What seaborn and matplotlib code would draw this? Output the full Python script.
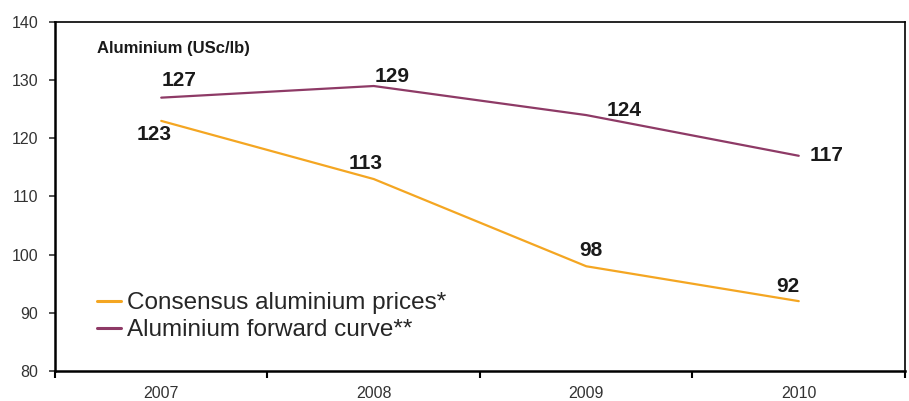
import numpy as np
import pandas as pd
import seaborn as sns
import matplotlib.pyplot as plt
from matplotlib.ticker import FixedLocator

years = ["2007", "2008", "2009", "2010"]
consensus = [123, 113, 98, 92]
forward = [127, 129, 124, 117]
series_names = ["Consensus aluminium prices*", "Aluminium forward curve**"]
colors = ["#F4A622", "#8E3A66"]

# label offsets in pixels (dx, dy) for each point label
cons_offsets = [(-7, -14), (-8, 16), (5, 16), (-11, 15)]
fwd_offsets = [(18, 17), (18, 10), (38, 5), (28, 0)]

df = pd.DataFrame({
    "year": years * 2,
    "value": consensus + forward,
    "series": [series_names[0]] * 4 + [series_names[1]] * 4,
})

sns.set_style("white")
plt.rcParams["font.family"] = ["Liberation Sans", "DejaVu Sans"]

fig, ax = plt.subplots(figsize=(9.09, 4.01), dpi=100)
fig.subplots_adjust(left=0.0605, right=0.9956, top=0.945, bottom=0.075)

sns.lineplot(data=df, x="year", y="value", hue="series", palette=colors,
             linewidth=1.6, sort=False, ax=ax)

ax.set_xlim(-0.5, 3.5)
ax.set_ylim(80, 140)
ax.set_yticks(np.arange(80, 141, 10))
ax.set_xlabel("")
ax.set_ylabel("")

for vals, offs in [(consensus, cons_offsets), (forward, fwd_offsets)]:
    for i, (v, (dx, dy)) in enumerate(zip(vals, offs)):
        ax.annotate(str(v), (i, v), xytext=(dx, dy), textcoords="offset pixels",
                    ha="center", va="center", fontsize=15, fontweight="bold",
                    color="#1a1a1a")

ax.text(0.05, 0.925, "Aluminium (USc/lb)", transform=ax.transAxes,
        fontsize=12, fontweight="bold", color="#1a1a1a", va="center")

for side, lw in [("left", 1.8), ("bottom", 1.8), ("top", 1.2), ("right", 1.2)]:
    ax.spines[side].set_visible(True)
    ax.spines[side].set_color("black")
    ax.spines[side].set_linewidth(lw)

ax.tick_params(axis="y", direction="out", length=4, width=1.2, pad=8,
               labelsize=11.5, colors="#333333", left=True)
ax.tick_params(axis="x", which="major", length=0, pad=11, labelsize=11.5,
               labelcolor="#333333")
ax.xaxis.set_minor_locator(FixedLocator([-0.5, 0.5, 1.5, 2.5, 3.5]))
ax.tick_params(axis="x", which="minor", direction="out", length=5, width=1.5,
               color="black", bottom=True)

leg = ax.legend(loc="lower left", bbox_to_anchor=(0.05, 0.085), frameon=False,
                fontsize=17.5, handlelength=0.95, handletextpad=0.25,
                labelspacing=0.2, borderpad=0, borderaxespad=0)
for line in leg.get_lines():
    line.set_linewidth(2.2)

fig.savefig("out.png", dpi=100)
